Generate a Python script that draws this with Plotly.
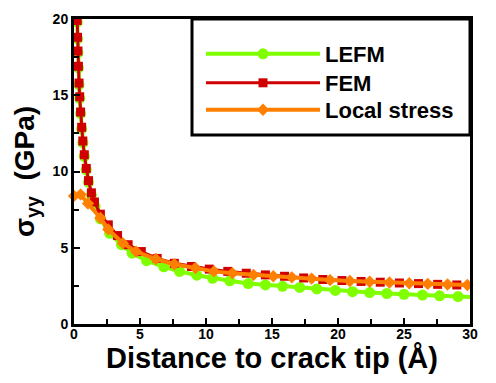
import plotly.graph_objects as go

# ---- data ----
lefm_x = [0.245, 0.27, 0.30, 0.335, 0.38, 0.43, 0.50, 0.58, 0.67, 0.78, 0.93, 1.1, 1.32, 1.6,
          2.0, 2.7, 3.6, 4.4, 5.5, 6.8, 8.0, 9.3, 10.5, 11.8, 13.2, 14.5, 15.8, 17.1, 18.4,
          19.8, 21.1, 22.4, 23.7, 25.0, 26.4, 27.7, 29.1, 30.4]
lefm_y = [19.8, 18.7, 17.8, 16.8, 15.7, 14.8, 13.8, 12.8, 11.9, 11.0, 10.1, 9.3, 8.45, 7.7,
          6.9, 5.95, 5.2, 4.65, 4.15, 3.75, 3.45, 3.2, 3.0, 2.83, 2.65, 2.56, 2.47, 2.4, 2.3,
          2.2, 2.12, 2.06, 2.0, 1.95, 1.9, 1.85, 1.8, 1.76]

fem_x = [0.245, 0.27, 0.30, 0.335, 0.38, 0.43, 0.50, 0.58, 0.67, 0.78, 0.93, 1.1, 1.32, 1.55,
         2.0, 2.6, 3.3, 4.1, 5.1, 6.3, 7.6, 8.9, 10.25, 11.65, 13.05, 14.5, 15.95, 17.4,
         18.85, 20.3, 21.75, 23.2, 24.65, 26.1, 27.55, 29.0, 30.45]
fem_y = [19.9, 18.8, 17.9, 16.9, 15.8, 14.9, 13.9, 12.9, 12.0, 11.1, 10.2, 9.4, 8.6, 8.0,
         7.2, 6.5, 5.8, 5.2, 4.75, 4.3, 3.98, 3.77, 3.6, 3.45, 3.33, 3.22, 3.13, 3.02,
         2.92, 2.85, 2.79, 2.74, 2.69, 2.65, 2.6, 2.56, 2.53]

local_x = [0.0, 0.5, 1.06, 2.0, 2.6, 3.7, 4.7, 6.2, 7.6, 9.2, 10.6, 12.0, 13.6, 15.1, 16.5,
           18.0, 19.4, 20.9, 22.4, 23.9, 25.4, 26.8, 28.3, 29.8]
local_y = [8.4, 8.5, 7.9, 6.95, 6.2, 5.3, 4.75, 4.26, 3.92, 3.67, 3.45, 3.33, 3.22, 3.13, 3.06,
           2.98, 2.88, 2.82, 2.77, 2.72, 2.67, 2.63, 2.59, 2.56]

series_names = ["LEFM", "FEM", "Local stress"]
x_ticks = [0, 5, 10, 15, 20, 25, 30]
y_ticks = [0, 5, 10, 15, 20]

GREEN = "#80ff00"
RED = "#d00000"
ORANGE = "#ff8000"
FONT = "Arial, Liberation Sans, sans-serif"

# plot area in pixels: left 74, right 470, top 19, bottom 324
def px(x):
    return (x - 74) / 396.0

def py(y):
    return (324 - y) / 305.0

fig = go.Figure()
fig.add_trace(go.Scatter(x=lefm_x, y=lefm_y, name=series_names[0], mode="lines+markers",
                         line=dict(color=GREEN, width=4), legend="legend",
                         marker=dict(symbol="circle", size=11, color=GREEN)))
fig.add_trace(go.Scatter(x=fem_x, y=fem_y, name=series_names[1], mode="lines+markers",
                         line=dict(color=RED, width=3), legend="legend2",
                         marker=dict(symbol="square", size=9, color=RED)))
fig.add_trace(go.Scatter(x=local_x, y=local_y, name=series_names[2], mode="lines+markers",
                         line=dict(color=ORANGE, width=4), cliponaxis=False, legend="legend3",
                         marker=dict(symbol="diamond", size=9.5, color=ORANGE)))

axis_common = dict(showline=True, linecolor="black", linewidth=3, mirror=True,
                   ticks="inside", ticklen=6, tickwidth=2, tickcolor="black",
                   showgrid=False, zeroline=False,
                   tickfont=dict(family=FONT, size=14, color="black", weight="bold"),
                   minor=dict(ticks="inside", ticklen=5, tickwidth=2, tickcolor="black", dtick=2.5))

fig.update_xaxes(range=[0, 30], tickvals=x_ticks, ticklabelstandoff=-5,
                 title=dict(text="Distance to crack tip (Å)", standoff=6,
                            font=dict(family=FONT, size=29, color="black", weight="bold")),
                 **axis_common)
fig.update_yaxes(range=[0, 20], tickvals=y_ticks,
                 title=dict(text="σ<sub>yy</sub>  (GPa)", standoff=10,
                            font=dict(family=FONT, size=28, color="black", weight="bold")),
                 **axis_common)

# legend frame (upper right corner of plot)
fig.add_shape(type="rect", xref="paper", yref="paper",
              x0=px(192), x1=1.0, y0=py(135), y1=1.0,
              line=dict(color="black", width=3), fillcolor="white", layer="below")

leg_common = dict(xanchor="left", yanchor="middle", bgcolor="rgba(0,0,0,0)", borderwidth=0,
                  itemwidth=114, font=dict(family=FONT, size=22, color="black", weight="bold"))
fig.update_layout(
    width=496, height=383,
    margin=dict(l=74, r=26, t=19, b=59),
    paper_bgcolor="white", plot_bgcolor="white",
    showlegend=True,
    legend=dict(x=px(201), y=py(54), **leg_common),
    legend2=dict(x=px(201), y=py(83), **leg_common),
    legend3=dict(x=px(201), y=py(110), **leg_common),
)

fig.write_html("out.html", config={"displayModeBar": False},
               post_script="document.body.style.margin='0px';")
